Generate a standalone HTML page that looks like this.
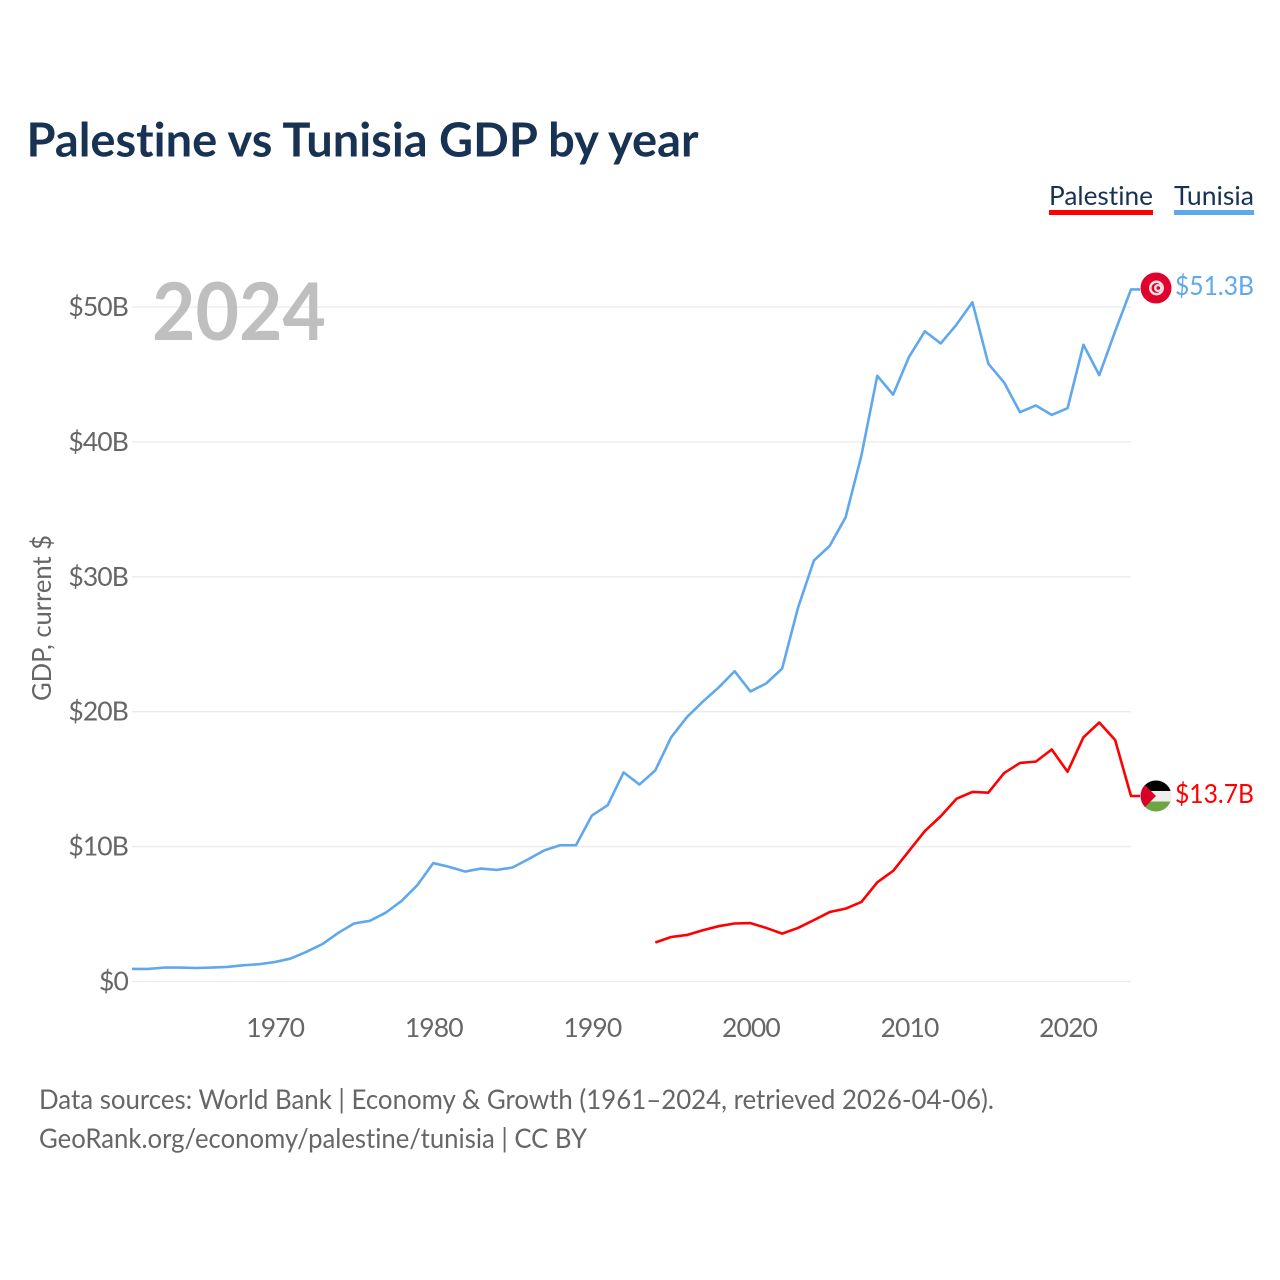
<!DOCTYPE html>
<html lang="en">
<head>
<meta charset="utf-8">
<title>Palestine vs Tunisia GDP by year</title>
<style>
html,body{margin:0;padding:0;background:#fff;}
svg{display:block;}
text{font-family:"Lato","Carlito","Liberation Sans",sans-serif;font-variant-ligatures:none;font-feature-settings:"liga" 0,"clig" 0;}
</style>
</head>
<body>
<svg id="chart" width="1280" height="1280" viewBox="0 0 1280 1280" xmlns="http://www.w3.org/2000/svg">
  <defs>
    <clipPath id="flag-clip-ps"><circle cx="1156" cy="796" r="15.5"/></clipPath>
  </defs>
  <text x="26.5" y="156.5" font-size="47" font-weight="700" fill="#173252" textLength="672" lengthAdjust="spacingAndGlyphs">Palestine vs Tunisia GDP by year</text>

  <g id="grid"></g>
  <g id="y-axis"></g>
  <g id="x-axis"></g>

  <text x="152" y="340" font-size="80" font-weight="700" fill="#bfbfbf" textLength="174" lengthAdjust="spacingAndGlyphs">2024</text>
  <text transform="translate(51,701) rotate(-90)" font-size="26" fill="#666666" textLength="166" lengthAdjust="spacingAndGlyphs">GDP, current $</text>

  <g id="series"></g>

  <g>
    <text x="1049" y="205" font-size="26.5" fill="#173252" textLength="104" lengthAdjust="spacingAndGlyphs">Palestine</text>
    <rect x="1049" y="210" width="104" height="5" fill="#ff0000"/>
  </g>
  <g>
    <text x="1174" y="205" font-size="26.5" fill="#173252" textLength="80" lengthAdjust="spacingAndGlyphs">Tunisia</text>
    <rect x="1174" y="210" width="80" height="5" fill="#5fa8ec"/>
  </g>

  <g>
    <circle cx="1156" cy="288" r="15.5" fill="#e0012f"/>
    <circle cx="1156.5" cy="288" r="7.5" fill="#f5dfe3"/>
    <circle cx="1156.5" cy="288" r="5" fill="#e0012f"/>
    <circle cx="1158" cy="288" r="4" fill="#f5dfe3"/>
    <circle cx="1158.3" cy="288" r="1.8" fill="#e0012f"/>
  </g>
  <g clip-path="url(#flag-clip-ps)">
    <rect x="1140" y="780" width="32" height="11" fill="#000000"/>
    <rect x="1140" y="791" width="32" height="10.5" fill="#eeeeee"/>
    <rect x="1140" y="801.5" width="32" height="11" fill="#6da544"/>
    <polygon points="1140,780 1156,796 1140,812" fill="#d80027"/>
  </g>

  <text id="end-tunisia" x="1175" y="295" font-size="26.5" fill="#5fa8ec" textLength="79" lengthAdjust="spacingAndGlyphs"></text>
  <text id="end-palestine" x="1175" y="803" font-size="26.5" fill="#ff0000" textLength="79" lengthAdjust="spacingAndGlyphs"></text>

  <text x="39" y="1109" font-size="27.5" fill="#666666" textLength="955" lengthAdjust="spacingAndGlyphs">Data sources: World Bank | Economy &amp; Growth (1961–2024, retrieved 2026-04-06).</text>
  <text x="39" y="1148" font-size="27.5" fill="#666666" textLength="548" lengthAdjust="spacingAndGlyphs">GeoRank.org/economy/palestine/tunisia | CC BY</text>
</svg>
<script>
const yTickValues = [0, 10, 20, 30, 40, 50];
const yTickLabels = ["$0", "$10B", "$20B", "$30B", "$40B", "$50B"];
const xTickValues = [1970, 1980, 1990, 2000, 2010, 2020];
const tunisiaStartYear = 1961;
const tunisiaValues = [0.93,0.93,1.03,1.03,1.0,1.03,1.08,1.2,1.28,1.44,1.7,2.2,2.77,3.6,4.3,4.5,5.1,5.97,7.15,8.78,8.5,8.15,8.37,8.27,8.45,9.07,9.72,10.1,10.1,12.3,13.07,15.5,14.6,15.65,18.1,19.6,20.75,21.8,23.0,21.5,22.1,23.2,27.7,31.2,32.3,34.4,39.0,44.9,43.5,46.3,48.2,47.3,48.7,50.35,45.8,44.4,42.2,42.7,42.0,42.5,47.2,44.95,48.2,51.3];
const palestineStartYear = 1994;
const palestineValues = [2.89,3.3,3.45,3.8,4.1,4.3,4.33,3.97,3.55,3.97,4.55,5.15,5.4,5.9,7.35,8.2,9.68,11.15,12.25,13.55,14.05,14.0,15.45,16.2,16.3,17.2,15.55,18.1,19.2,17.9,13.75];
const tunisiaEndLabel = "$51.3B";
const palestineEndLabel = "$13.7B";

const SVG_NS = "http://www.w3.org/2000/svg";
const plot = { left: 132, right: 1131, x0: 1961, x1: 2024, y0: 981.5, perUnit: 13.49, tailX: 1140 };
function xScale(year) {
  return plot.left + (year - plot.x0) * (plot.right - plot.left) / (plot.x1 - plot.x0);
}
function yScale(value) {
  return plot.y0 - value * plot.perUnit;
}
function make(tag, attrs, parent) {
  const el = document.createElementNS(SVG_NS, tag);
  for (const k in attrs) el.setAttribute(k, attrs[k]);
  parent.appendChild(el);
  return el;
}
const gridGroup = document.getElementById("grid");
const yGroup = document.getElementById("y-axis");
yTickValues.forEach(function (v, i) {
  const line = make("line", { x1: plot.left, x2: plot.right, y1: yScale(v), y2: yScale(v) + 0.01, stroke: "#ebebeb", "stroke-width": 1.3 }, gridGroup);
  
  
  const label = make("text", { x: 128, y: yScale(v) + 9, "text-anchor": "end", "font-size": 26.5, "letter-spacing": -0.9, fill: "#666666" }, yGroup);
  
  
  label.textContent = yTickLabels[i];
});
const xGroup = document.getElementById("x-axis");
xTickValues.forEach(function (year) {
  const label = make("text", { x: xScale(year) + 0.5, y: 1037, "text-anchor": "middle", "font-size": 26.5, "letter-spacing": -0.9, fill: "#666666" }, xGroup);
  
  
  label.textContent = String(year);
});
function linePoints(startYear, values) {
  const pts = values.map(function (v, i) {
    return xScale(startYear + i).toFixed(2) + "," + yScale(v).toFixed(2);
  });
  pts.push(plot.tailX + "," + yScale(values[values.length - 1]).toFixed(2));
  return pts.join(" ");
}
const seriesGroup = document.getElementById("series");
const tunisiaLine = make("polyline", { points: linePoints(tunisiaStartYear, tunisiaValues), fill: "none", stroke: "#5fa8ec", "stroke-width": 2.6, "stroke-linejoin": "round" }, seriesGroup);


const palestineLine = make("polyline", { points: linePoints(palestineStartYear, palestineValues), fill: "none", stroke: "#ff0000", "stroke-width": 2.6, "stroke-linejoin": "round" }, seriesGroup);


document.getElementById("end-tunisia").textContent = tunisiaEndLabel;
document.getElementById("end-palestine").textContent = palestineEndLabel;
</script>
</body>
</html>
